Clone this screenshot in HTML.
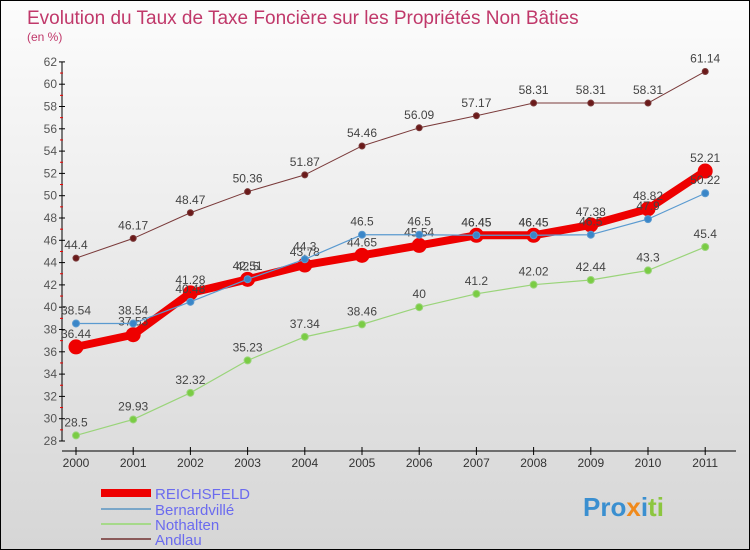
<!DOCTYPE html>
<html><head><meta charset="utf-8"><style>
body{margin:0}
#c{position:relative;width:748px;height:548px;border:1px solid #000;background:linear-gradient(#fcfcfc,#d6d6d6);font-family:"Liberation Sans",sans-serif;overflow:hidden}
</style></head><body>
<div id="c">
<svg id="s" width="748" height="548" xmlns="http://www.w3.org/2000/svg" font-family="Liberation Sans, sans-serif">
<text x="26" y="23" font-size="19" fill="#c0386a">Evolution du Taux de Taxe Foncière sur les Propriétés Non Bâties</text>
<text x="26" y="40" font-size="12" fill="#c0386a">(en %)</text>
<g id="axes"></g><g id="series"></g>
<g>
<rect x="100" y="488" width="50" height="8" fill="#e00"/>
<text x="154" y="498" font-size="15" fill="#6b6bef">REICHSFELD</text>
<rect x="100" y="507" width="50" height="2" fill="#7aa6c8"/>
<text x="154" y="514" font-size="15" fill="#6b6bef">Bernardvillé</text>
<rect x="100" y="522" width="50" height="2" fill="#a6d98a"/>
<text x="154" y="529" font-size="15" fill="#6b6bef">Nothalten</text>
<rect x="100" y="537" width="50" height="2" fill="#8a5a5a"/>
<text x="154" y="544" font-size="15" fill="#6b6bef">Andlau</text>
</g>
<text x="582" y="515" font-size="26" font-weight="bold"><tspan fill="#3a8fd0">Pro</tspan><tspan fill="#f08a1c">x</tspan><tspan fill="#3a8fd0">i</tspan><tspan fill="#8cc63f">ti</tspan></text>
</svg>
</div>
<script>
const years=[2000,2001,2002,2003,2004,2005,2006,2007,2008,2009,2010,2011];
const yTicks=[28,30,32,34,36,38,40,42,44,46,48,50,52,54,56,58,60,62];
const andlau=[44.4,46.17,48.47,50.36,51.87,54.46,56.09,57.17,58.31,58.31,58.31,61.14];
const nothalten=[28.5,29.93,32.32,35.23,37.34,38.46,40,41.2,42.02,42.44,43.3,45.4];
const bernardville=[38.54,38.54,40.48,42.51,44.3,46.5,46.5,46.45,46.45,46.5,47.9,50.22];
const reichsfeld=[36.44,37.53,41.28,42.5,43.78,44.65,45.54,46.45,46.45,47.38,48.82,52.21];
const NS="http://www.w3.org/2000/svg";
const xS=i=>75+i*57.2;
const yS=v=>440-(v-28)*11.15;
function mk(t,a,p){const e=document.createElementNS(NS,t);for(const k in a)e.setAttribute(k,a[k]);p.appendChild(e);return e;}
const ax=document.getElementById('axes'),sg=document.getElementById('series');
let l=mk('line',{x1:61,y1:yS(62),x2:61,y2:yS(28),stroke:'#000'},ax);


l=mk('line',{x1:61,y1:450,x2:735,y2:450,stroke:'#000'},ax);


const maxT=Math.max(...yTicks);
yTicks.forEach(v=>{const y=yS(v);
mk('line',{x1:58,y1:y,x2:64,y2:y,stroke:'#000'},ax);
if(v<maxT)mk('line',{x1:59,y1:yS(v+1),x2:62,y2:yS(v+1),stroke:'#e00'},ax);
const t=mk('text',{x:56,y:y+4,'font-size':12,fill:'#555','text-anchor':'end'},ax);t.textContent=v;

});
years.forEach((yr,i)=>{const x=xS(i);
mk('line',{x1:x,y1:446,x2:x,y2:454,stroke:'#000'},ax);
const t=mk('text',{x:x,y:466,'font-size':12,fill:'#333','text-anchor':'middle'},ax);t.textContent=yr;

});
function series(d,name,col,w,r,fill){const g=mk('g',{},sg);


mk('polyline',{points:d.map((v,i)=>xS(i)+','+yS(v)).join(' '),fill:'none',stroke:col,'stroke-width':w,'stroke-linejoin':'round'},g);
d.forEach((v,i)=>{const c=mk('circle',{cx:xS(i),cy:yS(v),r:r,fill:fill,stroke:col,'stroke-width':1},g);


const t=mk('text',{x:xS(i),y:yS(v)-9,'font-size':12,fill:'#444','text-anchor':'middle'},g);t.textContent=v;});}
series(andlau,'andlau','#7a3a3a',1,3,'#6b1a1a');
series(nothalten,'nothalten','#9ad47a',1.2,3.5,'#7acc44');
series(reichsfeld,'reichsfeld','#ee0000',8,7,'#ee0000');
series(bernardville,'bernardville','#5a9ad0',1.2,3.5,'#3a86c8');
</script>
</body></html>
